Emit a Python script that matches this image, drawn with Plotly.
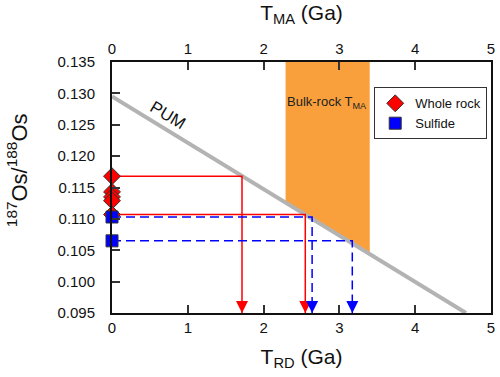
import plotly.graph_objects as go

# ---- data ----
pum_x = [0.0, 4.67]
pum_y = [0.1295, 0.095]

band_x = [2.29, 3.40]          # bulk-rock T_MA range (Ga)
band_top = [0.135, 0.135]
band_bottom = [0.1126, 0.1044]  # where the band meets the PUM line

wr_os = [0.1168, 0.1143, 0.1135, 0.1129, 0.1107]   # whole rock 187Os/188Os
sf_os = [0.1103, 0.1065]                           # sulfide 187Os/188Os

wr_trd_os = [0.1168, 0.1107]   # whole-rock values projected to T_RD
wr_trd = [1.715, 2.55]
sf_trd_os = [0.1103, 0.1065]
sf_trd = [2.64, 3.17]

x_ticks = [0, 1, 2, 3, 4, 5]
y_min, y_max = 0.095, 0.135

FONT = "Arial, Liberation Sans, sans-serif"
RED = "#ff0000"
BLUE = "#0000ff"
ORANGE = "#f9a03c"

fig = go.Figure()

# orange band
fig.add_trace(go.Scatter(
    x=[band_x[0], band_x[1], band_x[1], band_x[0]],
    y=[band_top[0], band_top[1], band_bottom[1], band_bottom[0]],
    fill="toself", fillcolor=ORANGE, line=dict(width=0), mode="lines",
    hoverinfo="skip", showlegend=False))

# PUM line
fig.add_trace(go.Scatter(x=pum_x, y=pum_y, mode="lines",
                         line=dict(color="#b3b3b3", width=4),
                         showlegend=False, hoverinfo="skip"))

# projection lines
for t, o in zip(wr_trd, wr_trd_os):
    fig.add_trace(go.Scatter(x=[0, t, t], y=[o, o, y_min], mode="lines",
                             line=dict(color=RED, width=1.5),
                             showlegend=False, hoverinfo="skip"))
for t, o in zip(sf_trd, sf_trd_os):
    fig.add_trace(go.Scatter(x=[0, t, t], y=[o, o, y_min], mode="lines",
                             line=dict(color=BLUE, width=1.5, dash="9px,5px"),
                             showlegend=False, hoverinfo="skip"))

# arrow heads
fig.add_trace(go.Scatter(x=wr_trd, y=[y_min] * len(wr_trd), mode="markers",
                         marker=dict(symbol="arrow-down", size=12, color=RED, line=dict(width=0)),
                         cliponaxis=False, showlegend=False, hoverinfo="skip"))
fig.add_trace(go.Scatter(x=sf_trd, y=[y_min] * len(sf_trd), mode="markers",
                         marker=dict(symbol="arrow-down", size=12, color=BLUE, line=dict(width=0)),
                         cliponaxis=False, showlegend=False, hoverinfo="skip"))

# data points
fig.add_trace(go.Scatter(x=[0] * len(wr_os), y=wr_os, mode="markers", name="Whole rock",
                         marker=dict(symbol="diamond", size=13, color=RED,
                                     line=dict(color="#333333", width=1)),
                         cliponaxis=False))
fig.add_trace(go.Scatter(x=[0] * len(sf_os), y=sf_os, mode="markers", name="Sulfide",
                         marker=dict(symbol="square", size=12, color=BLUE,
                                     line=dict(color="#333333", width=1)),
                         cliponaxis=False))

# invisible trace to carry the top axis
fig.add_trace(go.Scatter(x=[x_ticks[0], x_ticks[-1]], y=[y_min, y_min], xaxis="x2",
                         mode="markers", marker=dict(opacity=0), showlegend=False,
                         hoverinfo="skip"))

fig.add_annotation(x=0.74, y=0.1265, text="PUM", showarrow=False, textangle=31,
                   font=dict(family=FONT, size=17, color="#111111"))
fig.add_annotation(x=2.84, y=0.1286, text="Bulk-rock T<sub>MA</sub>", showarrow=False,
                   font=dict(family=FONT, size=13, color="#222222"))
# y axis title
fig.add_annotation(xref="paper", yref="paper", x=-0.25, y=0.57,
                   text="<sup>187</sup>Os/<sup>188</sup>Os", showarrow=False, textangle=-90,
                   xanchor="center", yanchor="middle",
                   font=dict(family=FONT, size=22, color="#111111"))

axis_common = dict(range=[x_ticks[0], x_ticks[-1]], tickvals=x_ticks, ticks="inside",
                   ticklen=8, tickwidth=1.5, tickcolor="#333333", showgrid=False,
                   zeroline=False, showline=True, linecolor="#111111", linewidth=2,
                   automargin=False, ticklabeloverflow="allow",
                   tickfont=dict(family=FONT, size=15, color="#111111"))

fig.update_layout(
    width=500, height=377,
    margin=dict(l=112, r=9, t=62, b=64),
    paper_bgcolor="white", plot_bgcolor="white",
    font=dict(family=FONT, color="#111111"),
    xaxis=dict(**axis_common,
               title=dict(text="T<sub>RD</sub> (Ga)", font=dict(family=FONT, size=21), standoff=14)),
    xaxis2=dict(**axis_common, overlaying="x", side="top", anchor="y",
                title=dict(text="T<sub>MA</sub> (Ga)", font=dict(family=FONT, size=21), standoff=14)),
    yaxis=dict(range=[y_min, y_max], dtick=0.005, tickformat=".3f", ticks="inside",
               ticklen=8, tickwidth=1.5, tickcolor="#333333", showgrid=False,
               zeroline=False, showline=True, mirror=True, linecolor="#111111", linewidth=2,
               ticklabelstandoff=12, automargin=False,
               tickfont=dict(family=FONT, size=15, color="#111111")),
    legend=dict(x=0.99, y=0.899, xanchor="right", yanchor="top",
                bordercolor="#333333", borderwidth=1, bgcolor="white",
                itemwidth=30, tracegroupgap=6,
                font=dict(family=FONT, size=13, color="#111111")),
    showlegend=True,
)

# remove the browser's default page margin so the 500x377 figure fills the window
fig.write_html("out.html", config={"displayModeBar": False},
               post_script="document.body.style.margin='0';document.body.style.overflow='hidden';")
